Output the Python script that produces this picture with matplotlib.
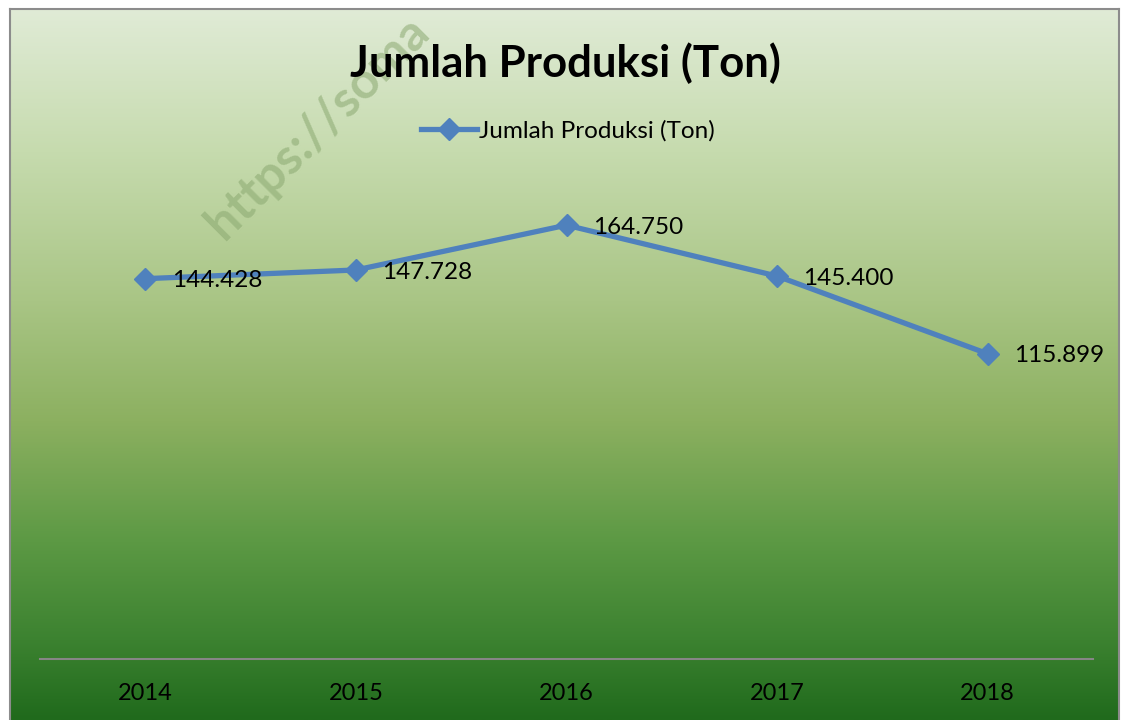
import matplotlib
matplotlib.use('Agg')
import matplotlib.pyplot as plt
from matplotlib.colors import LinearSegmentedColormap
import numpy as np

years = ['2014', '2015', '2016', '2017', '2018']
produksi = [144.428, 147.728, 164.750, 145.400, 115.899]
series_name = 'Jumlah Produksi (Ton)'

plt.rcParams['font.family'] = ['Lato', 'DejaVu Sans']

W, H = 1122, 720
fig = plt.figure(figsize=(W / 100, H / 100), dpi=100)

# chart area background with vertical gradient
bg = fig.add_axes([10 / W, 0, (1119 - 10) / W, (720 - 9) / H])
stops = [(0.0, '#206a1c'), (0.11, '#3c8230'), (0.25, '#5c9944'),
         (0.42, '#8cb060'), (0.59, '#a9c585'), (0.80, '#c6dbae'), (1.0, '#e0ebd6')]
cmap = LinearSegmentedColormap.from_list('grad', stops)
grad = np.linspace(0, 1, 256).reshape(-1, 1)
bg.imshow(grad, aspect='auto', cmap=cmap, origin='lower', extent=[0, 1, 0, 1])
bg.set_xlim(0, 1)
bg.set_ylim(0, 1)
bg.set_xticks([])
bg.set_yticks([])
for s in ['left', 'top', 'right']:
    bg.spines[s].set_color('#8c8c8c')
    bg.spines[s].set_linewidth(1.5)
bg.spines['bottom'].set_visible(False)

# watermark
fig.text(318 / W, 1 - 128 / H, 'https://soma', rotation=45, fontsize=36, fontweight='bold',
         color='#8aa870', alpha=0.55, ha='center', va='center')

ax = fig.add_axes([40 / W, (720 - 659) / H, (1093 - 40) / W, (659 - 185) / H])
ax.patch.set_alpha(0)
x = np.arange(len(years))
ax.plot(x, produksi, color='#4f81bd', lw=3.8, marker='D', markersize=11,
        markerfacecolor='#4f81bd', markeredgecolor='#4f81bd', label=series_name,
        solid_joinstyle='round', zorder=3)
for xi, v in zip(x, produksi):
    ax.annotate(f'{v:.3f}', (xi, v), xytext=(19, -1.5), textcoords='offset points',
                ha='left', va='center', fontsize=17.5, color='black')

ax.set_xlim(-0.5, len(years) - 0.5)
ax.set_ylim(0, 180)
ax.set_yticks([])
ax.set_xticks(x)
ax.set_xticklabels(years, fontsize=17)
ax.tick_params(axis='x', length=0, pad=17)
for s in ['left', 'top', 'right']:
    ax.spines[s].set_visible(False)
ax.spines['bottom'].set_color('#868686')
ax.spines['bottom'].set_linewidth(1.5)

fig.text(565 / W, 1 - 63 / H, series_name, ha='center', va='center',
         fontsize=31.5, fontweight='bold', color='black')
fig.legend(loc='center', bbox_to_anchor=(568 / W, 1 - 131 / H), frameon=False,
           fontsize=17.5, handlelength=2.3, handletextpad=0.1)

fig.savefig('out.png', dpi=100)
